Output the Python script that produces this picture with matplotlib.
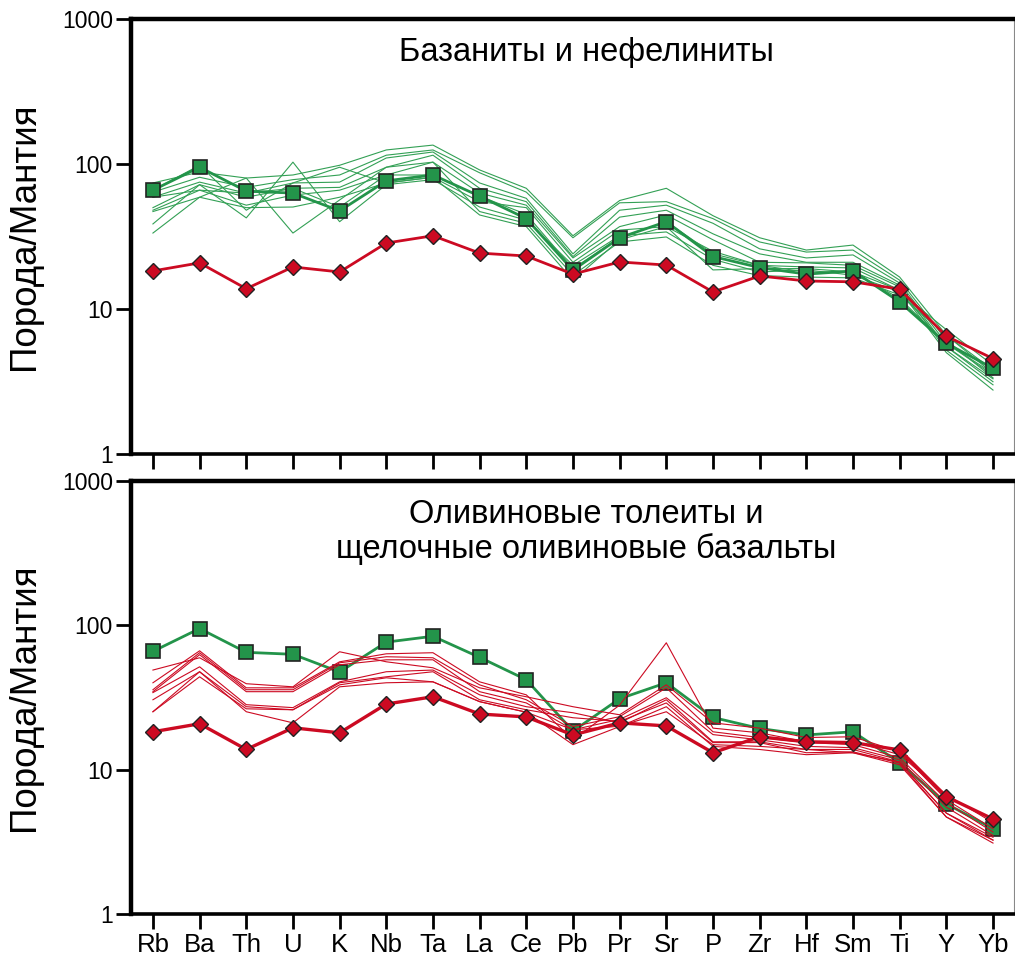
import matplotlib
matplotlib.use("Agg")
import matplotlib.pyplot as plt
import numpy as np

plt.rcParams['font.family'] = ['Liberation Sans', 'DejaVu Sans']

elements = ["Rb", "Ba", "Th", "U", "K", "Nb", "Ta", "La", "Ce", "Pb",
            "Pr", "Sr", "P", "Zr", "Hf", "Sm", "Ti", "Y", "Yb"]

# reference patterns (green squares and red diamonds)
green_ref = [66, 95, 65, 63, 47.5, 76.5, 84, 60, 42, 18.5, 31, 40, 23, 19.3, 17.4, 18.3, 11.2, 5.8, 3.9]
red_ref = [18.3, 20.8, 13.8, 19.5, 18, 28.5, 32, 24.3, 23.2, 17.4, 21.1, 20.1, 13.1, 16.9, 15.6, 15.4, 13.7, 6.5, 4.55]

# thin green lines: basanites and nephelinites
basanite_1 = [74, 88, 80, 84, 98, 125, 135, 91, 68, 32, 56, 68, 44, 31, 25.5, 27.6, 16.6, 6.6, 3.6]
basanite_2 = [64, 81, 69, 78, 84, 115, 125, 87, 64, 31, 54, 55, 42, 29, 24.7, 25.5, 15.8, 6.1, 3.35]
basanite_3 = [59, 75, 63, 74, 75, 110, 121, 74, 58, 24, 48, 52, 39, 26, 22.5, 23.6, 15.1, 5.8, 3.5]
basanite_4 = [50, 72, 59, 68, 69, 95, 115, 68, 55, 23, 43, 48, 33, 24, 21, 21, 14.6, 5.5, 3.15]
basanite_5 = [48, 66, 52, 61, 66, 84, 103, 63, 52, 22.5, 37, 44.5, 30, 21, 20.8, 20, 14.2, 5.2, 3.0]
basanite_6 = [47, 59, 50, 50.5, 59, 74, 81, 55, 50, 21, 35, 37, 25, 20, 19.5, 19.2, 13.5, 5.0, 2.76]
basanite_7 = [38.6, 72, 42.5, 103, 40, 72, 78, 50.5, 41, 20, 32, 34, 22, 18, 18.6, 17.1, 13.1, 7.2, 4.1]
basanite_8 = [33.4, 59, 80, 33.4, 56.5, 95, 103, 47, 39, 17.1, 29, 31.4, 20, 17, 16.6, 16.4, 12.5, 6.6, 3.8]
basanite_9 = [66, 98, 48, 74, 95, 74, 81, 44.5, 37, 15.8, 30, 37, 18.6, 19, 19, 18, 13.5, 5.5, 3.3]
basanite_10 = [59, 66, 63, 68, 50.5, 84, 84, 60, 45, 19, 31, 40, 24, 20, 18, 18, 11.8, 5.8, 3.6]
basanites = [basanite_1, basanite_2, basanite_3, basanite_4, basanite_5,
             basanite_6, basanite_7, basanite_8, basanite_9, basanite_10]

# thin red lines: olivine tholeiites and alkali olivine basalts
tholeiite_1 = [49, 59.6, 39.4, 37.5, 65.6, 55.9, 50.8, 36.9, 32, 27.3, 24, 38.7, 21.1, 19.4, 16.7, 16.9, 13.3, 6.2, 3.9]
tholeiite_2 = [40, 66.6, 36.9, 36.9, 55.9, 63.5, 64.6, 40.6, 33, 16.1, 28, 75.7, 19.4, 18, 15.6, 15.6, 12.7, 6.7, 4.3]
tholeiite_3 = [35.8, 64.6, 35.8, 35.8, 55, 60.6, 59.6, 38.7, 30.5, 19.9, 23.3, 36.9, 18.3, 16.7, 15.4, 14.9, 12.1, 5.9, 3.7]
tholeiite_4 = [34.7, 62.6, 34.7, 34.7, 53.3, 57.7, 57.7, 34.7, 29, 18.9, 22.3, 31.5, 17.5, 16.1, 14.5, 14.2, 11.7, 5.5, 3.5]
tholeiite_5 = [34.2, 51.6, 28.2, 26.9, 40.6, 47.7, 49, 33, 27.3, 24.8, 21.1, 30.5, 15.6, 15.6, 13.8, 13.8, 11.3, 5.0, 3.4]
tholeiite_6 = [30.5, 47.7, 27.3, 26, 40, 44, 47.7, 30.5, 26, 22.9, 21.6, 29, 15.4, 15.4, 13.1, 13.3, 11.1, 4.7, 3.25]
tholeiite_7 = [25.2, 44, 26.4, 26, 38.7, 43.3, 40.6, 29.6, 25, 14.9, 19.9, 27.3, 14.5, 13.8, 12.7, 13.1, 10.8, 4.7, 3.1]
tholeiite_8 = [25.2, 47.7, 25.2, 21.1, 37.5, 40, 40.6, 29.6, 25, 18.9, 20, 25.2, 14.9, 14.5, 13.8, 13.1, 11.3, 5.0, 3.25]
tholeiites = [tholeiite_1, tholeiite_2, tholeiite_3, tholeiite_4,
              tholeiite_5, tholeiite_6, tholeiite_7, tholeiite_8]

title_top = "Базаниты и нефелиниты"
title_bottom = "Оливиновые толеиты и\nщелочные оливиновые базальты"
ylabel = "Порода/Мантия"

GREEN = "#23944a"
GREEN_THIN = "#33a055"
RED = "#cc0a22"

fig = plt.figure(figsize=(10.15, 9.64), dpi=100)
ax1 = fig.add_axes([131/1015, 1-454/964, 883/1015, 435/964])
ax2 = fig.add_axes([131/1015, 1-914/964, 883/1015, 433/964])

x = np.arange(len(elements))

def style(ax, show_labels):
    ax.set_yscale('log')
    ax.set_ylim(1, 1000)
    ax.set_xlim(-0.47, len(elements) - 1 + 0.45)
    ax.set_yticks([1, 10, 100, 1000])
    ax.set_yticklabels(["1", "10", "100", "1000"])
    ax.yaxis.set_minor_locator(matplotlib.ticker.NullLocator())
    ax.set_xticks(x)
    if show_labels:
        ax.set_xticklabels(elements, fontsize=18.5)
    else:
        ax.set_xticklabels([])
    ax.tick_params(axis='x', direction='out', length=11, width=2, pad=3)
    ax.tick_params(axis='y', direction='out', length=11, width=2, labelsize=16.5, pad=2)
    for s in ['left', 'top']:
        ax.spines[s].set_linewidth(3.2)
    ax.spines['bottom'].set_linewidth(2.6)
    ax.spines['right'].set_linewidth(0.8)
    ax.spines['right'].set_color('#888888')
    ax.set_ylabel(ylabel, fontsize=26.5)

style(ax1, False)
style(ax2, True)
for ax in (ax1, ax2):
    ax.yaxis.set_label_coords(-89/883, 0.5)

# top panel
for s in basanites:
    ax1.plot(x, s, color=GREEN_THIN, lw=0.8, zorder=2)
ax1.plot(x, green_ref, color=GREEN, lw=2, marker='s', ms=10.5,
         mfc=GREEN, mec='#222222', mew=1.2, zorder=4)
ax1.plot(x, red_ref, color=RED, lw=2, marker='D', ms=8.5,
         mfc=RED, mec='#222222', mew=1.0, zorder=5)
ax1.text(0.516, 0.924, title_top, transform=ax1.transAxes, ha='center', va='center', fontsize=23.5)

# bottom panel
ax2.plot(x, green_ref, color=GREEN, lw=2, marker='s', ms=10.5,
         mfc=GREEN, mec='#222222', mew=1.2, zorder=3)
for s in tholeiites:
    ax2.plot(x, s, color=RED, lw=0.8, zorder=4)
ax2.plot(x, red_ref, color=RED, lw=2.4, marker='D', ms=8.5,
         mfc=RED, mec='#222222', mew=1.0, zorder=5)
ax2.text(0.516, 0.883, title_bottom, transform=ax2.transAxes, ha='center', va='center',
         fontsize=23.5, linespacing=1.12)

fig.savefig("out.png", dpi=100)
